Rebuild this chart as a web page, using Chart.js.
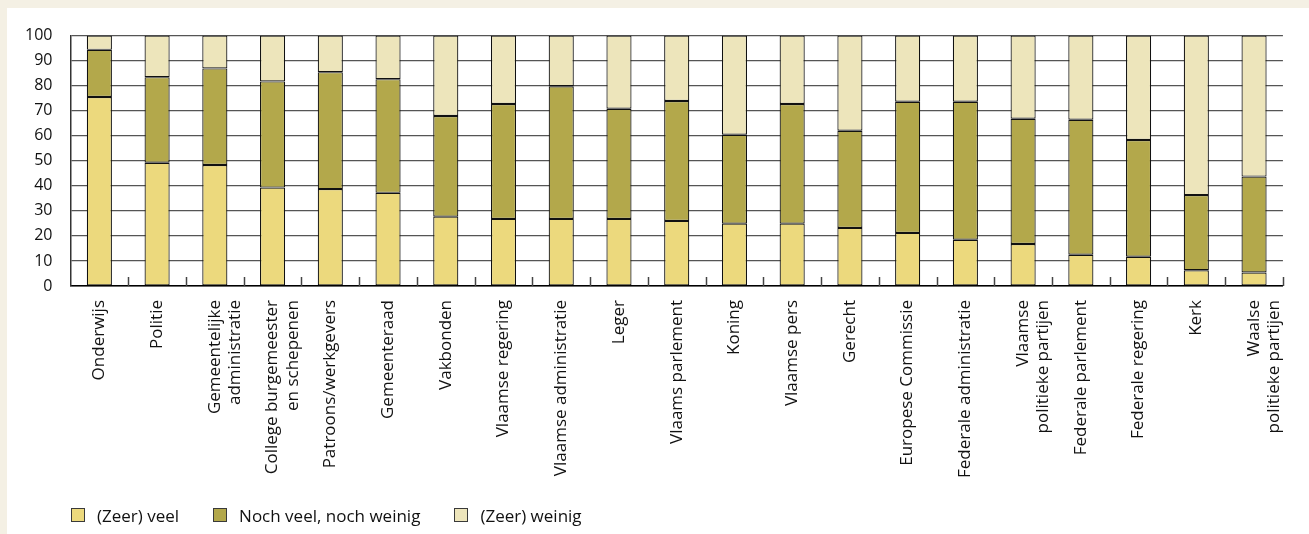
<!DOCTYPE html>
<html>
<head>
<meta charset="utf-8">
<script src="https://cdn.jsdelivr.net/npm/chart.js@4.4.1/dist/chart.umd.min.js"></script>
<style>
  html, body { margin: 0; padding: 0; }
  body { width: 1309px; height: 534px; background: #f4f0e4; position: relative; overflow: hidden; font-family: "Open Sans", sans-serif; }
  #panel { position: absolute; left: 7px; top: 8px; width: 1302px; height: 526px; background: #fff; }
  #chartWrap { position: absolute; left: 0; top: 0; width: 1302px; height: 526px; }
  #legend { position: absolute; left: 64px; top: 496px; height: 22px; display: flex; align-items: center; font-size: 17px; color: #111; }
  .item { display: flex; align-items: center; margin-right: 34px; }
  .box { width: 12px; height: 12px; border: 1px solid #3a3a3a; margin-right: 12px; }
</style>
</head>
<body>
<div id="panel">
  <div id="chartWrap"><canvas id="barChart"></canvas></div>
  <div id="legend"></div>
</div>
<script>
// Vertrouwen in instellingen (%)
const categories = [
  "Onderwijs", "Politie", ["Gemeentelijke", "administratie"],
  ["College burgemeester", "en schepenen"], "Patroons/werkgevers", "Gemeenteraad",
  "Vakbonden", "Vlaamse regering", "Vlaamse administratie", "Leger",
  "Vlaams parlement", "Koning", "Vlaamse pers", "Gerecht",
  "Europese Commissie", "Federale administratie", ["Vlaamse", "politieke partijen"],
  "Federale parlement", "Federale regering", "Kerk", ["Waalse", "politieke partijen"]
];

const seriesNames = ["(Zeer) veel", "Noch veel, noch weinig", "(Zeer) weinig"];

const veel     = [75.5, 49.2, 48.3, 39.3, 38.7, 37.2, 27.7, 26.8, 26.8, 26.8, 26.0, 24.9, 24.9, 23.2, 21.2, 18.5, 16.8, 12.5, 11.7, 6.3, 5.4];
const neutraal = [18.8, 34.2, 38.6, 42.4, 46.7, 45.4, 40.2, 45.9, 53.0, 44.0, 47.9, 35.5, 47.8, 38.8, 52.4, 55.1, 50.0, 53.9, 46.6, 30.0, 38.3];
const weinig   = [5.7, 16.6, 13.1, 18.3, 14.6, 17.4, 32.1, 27.3, 20.2, 29.2, 26.1, 39.6, 27.3, 38.0, 26.4, 26.4, 33.2, 33.6, 41.7, 63.7, 56.3];

const yTicks = [0, 10, 20, 30, 40, 50, 60, 70, 80, 90, 100];

const colors = ["#ecd97d", "#b3a84b", "#ede5bb"];

document.addEventListener("DOMContentLoaded", function () {

  // small tick marks between categories, standing on the x axis
  const categoryTicks = {
    id: "categoryTicks",
    afterDatasetsDraw(chart) {
      const x = chart.scales.x;
      const bottom = chart.chartArea.bottom;
      const c = chart.ctx;
      c.save();
      c.strokeStyle = "#444";
      c.lineWidth = 1.5;
      for (let i = 1; i <= categories.length; i++) {
        const px = Math.round(x.getPixelForValue(i - 0.5)) + 0.5;
        c.beginPath();
        c.moveTo(px, bottom);
        c.lineTo(px, bottom - 9);
        c.stroke();
      }
      c.restore();
    }
  };

  const ctx = document.getElementById("barChart");

  new Chart(ctx, {
    type: "bar",
    data: {
      labels: categories,
      datasets: [veel, neutraal, weinig].map((d, i) => ({
        label: seriesNames[i],
        data: d,
        backgroundColor: colors[i],
        borderColor: "#111",
        borderWidth: 1.2,
        borderSkipped: false,
        barPercentage: 0.435,
        categoryPercentage: 1
      }))
    },
    options: {
      responsive: true,
      maintainAspectRatio: false,
      animation: false,
      layout: { padding: { top: 25, right: 6, bottom: 48, left: 0 } },
      plugins: {
        legend: { display: false },
        tooltip: { enabled: false }
      },
      scales: {
        x: {
          stacked: true,
          offset: true,
          afterFit: s => { s.height = 200; },
          grid: { display: false, drawTicks: false },
          border: { display: true, color: "#000", width: 1.5 },
          ticks: {
            autoSkip: false,
            maxRotation: 90,
            minRotation: 90,
            padding: 14,
            color: "#111",
            font: { family: "Open Sans", size: 17 }
          }
        },
        y: {
          stacked: true,
          min: 0,
          max: 100,
          afterFit: s => { s.width = 63.5; },
          afterBuildTicks: s => { s.ticks = yTicks.map(v => ({ value: v })); },
          grid: { color: "#555", lineWidth: 1.3, drawTicks: false },
          border: { display: true, color: "#333", width: 1.5 },
          ticks: {
            padding: 18,
            color: "#111",
            font: { family: "Open Sans", size: 16 }
          }
        }
      }
    },
    plugins: [categoryTicks]
  });

  // legend
  const legend = document.getElementById("legend");
  seriesNames.forEach((name, i) => {
    const item = document.createElement("div");
    item.className = "item";
    const box = document.createElement("span");
    box.className = "box";
    box.style.background = colors[i];
    const txt = document.createElement("span");
    txt.textContent = name;
    item.appendChild(box);
    item.appendChild(txt);
    legend.appendChild(item);
  });

});
</script>
</body>
</html>
